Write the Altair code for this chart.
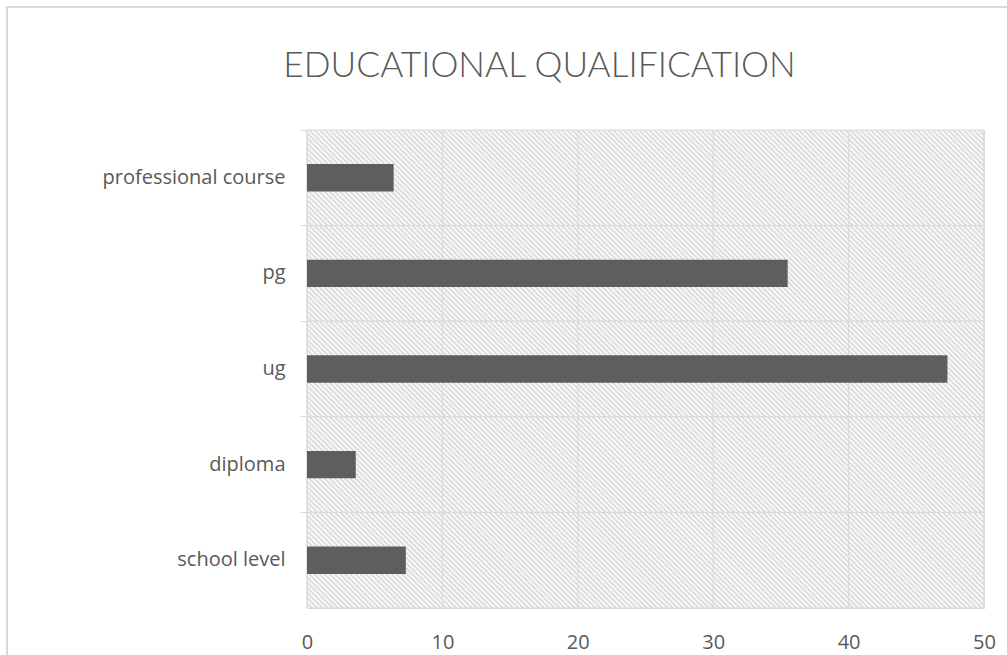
import altair as alt
import pandas as pd

categories = ["professional course", "pg", "ug", "diploma", "school level"]
values = [6.4, 35.5, 47.3, 3.6, 7.3]
x_ticks = [0, 10, 20, 30, 40, 50]

df = pd.DataFrame({"category": categories, "value": values})
df_x = pd.DataFrame({"value": x_ticks})

W, H = 677, 478
GRID = "#d9d9d9"
TEXT = "#595959"

# diagonal hatch pattern ("\\\\") built as a striped linear gradient, one per cell
cell_h = H / len(categories)
r = cell_h / W
n_periods = 150
stops = []
for i in range(n_periods):
    stops += [
        {"offset": i / n_periods, "color": "#d6d6d6"},
        {"offset": (i + 0.5) / n_periods, "color": "#ffffff"},
    ]
stops.append({"offset": 1, "color": "#d6d6d6"})
s = (1 + r) / (1 + r * r)
hatch = alt.Gradient(
    gradient="linear",
    stops=stops,
    x1=0, y1=1, x2=s, y2=1 - s * r,
)

cat_scale = alt.Scale(paddingInner=0, paddingOuter=0)
val_scale = alt.Scale(domain=[0, 50], nice=False)

y_enc = alt.Y(
    "category:N",
    sort=categories,
    scale=cat_scale,
    axis=alt.Axis(
        title=None,
        domain=False,
        bandPosition=0,
        ticks=True,
        tickSize=7,
        tickColor=GRID,
        tickWidth=1,
        grid=False,
        labelPadding=15,
        labelLimit=400,
        labelFontSize=20,
        labelColor=TEXT,
        labelFont="Open Sans",
    ),
)

x_enc = alt.X(
    "value:Q",
    scale=val_scale,
    axis=alt.Axis(
        title=None,
        values=x_ticks,
        ticks=False,
        domain=True,
        domainColor=GRID,
        domainWidth=1,
        grid=False,
        labelFlush=False,
        labelPadding=24,
        labelFontSize=20,
        labelColor=TEXT,
        labelFont="Open Sans",
    ),
)

frame = alt.Chart(df).mark_rect(fill=None, stroke=GRID, strokeWidth=1.5, clip=False).encode(
    x=alt.value(-300),
    x2=alt.value(W + 400),
    y=alt.value(-123),
    y2=alt.value(H + 300),
)

cells = alt.Chart(df).mark_rect(fill=hatch, stroke=GRID, strokeWidth=1).encode(
    x=alt.datum(0),
    x2=alt.datum(50),
    y=y_enc,
)

vgrid = alt.Chart(df_x).mark_rule(color=GRID, strokeWidth=1).encode(
    x=x_enc,
)

bars = alt.Chart(df).mark_bar(color="#5e5e5e", height={"band": 0.287}).encode(
    x=x_enc,
    y=y_enc,
)

chart = (
    alt.layer(frame, cells, vgrid, bars)
    .properties(
        width=W,
        height=H,
        title=alt.TitleParams(
            "EDUCATIONAL QUALIFICATION",
            fontSize=35.3,
            font="Lato",
            fontWeight=300,
            color=TEXT,
            anchor="middle",
            frame="group",
            dx=-106,
            offset=0,
            dy=78,
        ),
        autosize=alt.AutoSizeParams(type="none"),
        padding={"left": 307, "top": 130, "right": 23, "bottom": 47},
    )
    .configure_view(stroke=None)
    .configure(background="white")
)

chart.save("out.html", embed_options={"renderer": "svg", "actions": False})
